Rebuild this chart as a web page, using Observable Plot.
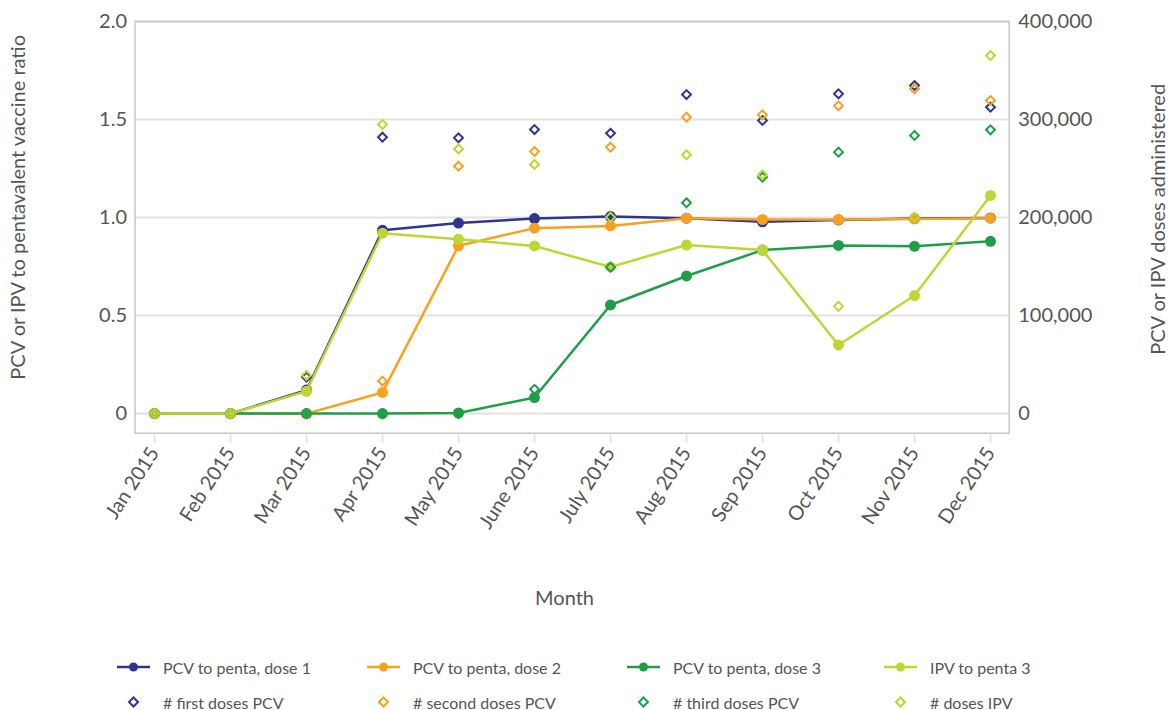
<!DOCTYPE html>
<html>
<head>
<meta charset="utf-8">
<script src="https://cdn.jsdelivr.net/npm/d3@7"></script>
<script src="https://cdn.jsdelivr.net/npm/@observablehq/plot@0.6"></script>
<style>
  html, body { margin: 0; padding: 0; background: #fff; }
  #wrap { position: relative; width: 1172px; height: 710px; font-family: Lato, "Open Sans", sans-serif; }
  .leg { position: absolute; display: flex; align-items: center; font-size: 16px; color: #555; white-space: nowrap; }
  .leg svg { margin-right: 13px; }
</style>
</head>
<body>
<div id="wrap"><div id="chart"></div><div id="legend"></div></div>
<script>
const months = ["Jan 2015","Feb 2015","Mar 2015","Apr 2015","May 2015","June 2015","July 2015","Aug 2015","Sep 2015","Oct 2015","Nov 2015","Dec 2015"];

// Ratios (left axis)
const pcvDose1 = [0, 0, 0.12, 0.935, 0.972, 0.995, 1.005, 0.997, 0.978, 0.988, 0.995, 0.998];
const pcvDose2 = [0, 0, 0, 0.108, 0.856, 0.946, 0.957, 0.997, 0.99, 0.99, 0.993, 0.997];
const pcvDose3 = [0, 0, 0, 0, 0.003, 0.082, 0.554, 0.702, 0.834, 0.858, 0.853, 0.879];
const ipvPenta3 = [0, 0, 0.114, 0.92, 0.889, 0.855, 0.748, 0.86, 0.834, 0.35, 0.602, 1.113];

// Doses administered (right axis)
const firstDosesPCV = [0, 0, 37300, 282000, 281300, 289800, 286000, 325500, 299000, 326200, 334700, 312600];
const secondDosesPCV = [0, 0, 0, 33200, 252400, 267400, 271800, 302400, 304800, 314000, 331300, 319400];
const thirdDosesPCV = [0, 0, 0, 0, 0, 24800, 149400, 215100, 241200, 266700, 283700, 289500];
const dosesIPV = [0, 0, 39000, 295000, 270000, 254200, 200400, 264000, 243600, 109400, 200400, 365300];

const leftTicks = [0, 0.5, 1, 1.5, 2];
const rightPerLeft = 200000; // 2.0 on the left axis = 400,000 on the right axis

const lineSeries = [
  {name: "PCV to penta, dose 1", values: pcvDose1, color: "#2c3592"},
  {name: "PCV to penta, dose 2", values: pcvDose2, color: "#f8a11e"},
  {name: "PCV to penta, dose 3", values: pcvDose3, color: "#1f9e48"},
  {name: "IPV to penta 3", values: ipvPenta3, color: "#bdd633"}
];
const doseSeries = [
  {name: "# first doses PCV", values: firstDosesPCV, color: "#2c3592"},
  {name: "# second doses PCV", values: secondDosesPCV, color: "#f8a11e"},
  {name: "# third doses PCV", values: thirdDosesPCV, color: "#1f9e48"},
  {name: "# doses IPV", values: dosesIPV, color: "#bdd633"}
];

const lineRows = lineSeries.map(s => s.values.map((v, i) => ({month: months[i], v, series: s.name, color: s.color})));
const doseRows = doseSeries.map(s => s.values.map((v, i) => ({month: months[i], v, series: s.name, color: s.color})));

const W = 1172, H = 630;
const mL = 134.5, mR = W - 1008.7, mT = 21, mB = H - 432.7;

const marks = [
  Plot.gridY(leftTicks, {stroke: "#e2e2e2", strokeWidth: 2, strokeOpacity: 1}),
  Plot.frame({stroke: "#c8c8c8", strokeWidth: 1.5}),
  Plot.axisX({tickSize: 10, tickPadding: 6, tickRotate: -57, stroke: "#dddddd", strokeWidth: 1.5, fontSize: 20, color: "#555", label: null}),
  Plot.axisY(leftTicks, {anchor: "left", tickSize: 0, tickPadding: 8, fontSize: 20, color: "#555", label: null,
    tickFormat: d => d === 0 ? "0" : d.toFixed(1)}),
  Plot.axisY(leftTicks, {anchor: "right", tickSize: 0, tickPadding: 9, fontSize: 20, color: "#555", label: null,
    tickFormat: d => d3.format(",")(Math.round(d * rightPerLeft))}),
  Plot.text(["PCV or IPV to pentavalent vaccine ratio"], {frameAnchor: "left", rotate: -90, textAnchor: "middle", dx: -116.5, dy: -20, fontSize: 20, fill: "#555", lineAnchor: "middle"}),
  Plot.text(["PCV or IPV doses administered"], {frameAnchor: "right", rotate: -90, textAnchor: "middle", dx: 149.3, dy: -8, fontSize: 20, fill: "#555", lineAnchor: "middle"}),
  Plot.text(["Month"], {frameAnchor: "bottom", textAnchor: "middle", dx: -7.6, dy: 165, fontSize: 20, fill: "#555", lineAnchor: "middle"})
];
for (const rows of lineRows) {
  marks.push(Plot.line(rows, {x: "month", y: "v", stroke: rows[0].color, strokeWidth: 2.5}));
  marks.push(Plot.dot(rows, {x: "month", y: "v", fill: rows[0].color, r: 5.5}));
}
for (const rows of doseRows) {
  marks.push(Plot.dot(rows, {x: "month", y: d => d.v / rightPerLeft, symbol: "diamond2", stroke: rows[0].color, fill: "none", strokeWidth: 2, r: 4}));
}

const chart = Plot.plot({
  width: W, height: H,
  marginLeft: mL, marginRight: mR, marginTop: mT, marginBottom: mB,
  style: {fontFamily: "Lato, 'Open Sans', sans-serif", background: "#fff"},
  x: {type: "point", domain: months, padding: 0.225},
  y: {domain: [-0.1, 2.0]},
  marks
});
document.getElementById("chart").appendChild(chart);

// Legend
const legend = document.getElementById("legend");
const colX = [117, 367, 627, 884];
lineSeries.forEach((s, i) => {
  const el = document.createElement("div");
  el.className = "leg";
  el.style.left = colX[i] + "px";
  el.style.top = (667 - 11) + "px";
  el.style.height = "22px";
  el.innerHTML = `<svg width="33" height="12"><line x1="0" y1="6" x2="33" y2="6" stroke="${s.color}" stroke-width="2.5"/><circle cx="16.5" cy="6" r="4.5" fill="${s.color}"/></svg><span>${s.name}</span>`;
  legend.appendChild(el);
});
doseSeries.forEach((s, i) => {
  const el = document.createElement("div");
  el.className = "leg";
  el.style.left = colX[i] + "px";
  el.style.top = (702 - 11) + "px";
  el.style.height = "22px";
  el.innerHTML = `<svg width="33" height="12"><path d="M16.5,1.5 L21,6 L16.5,10.5 L12,6 Z" fill="none" stroke="${s.color}" stroke-width="2"/></svg><span>${s.name}</span>`;
  legend.appendChild(el);
});
</script>
</body>
</html>
